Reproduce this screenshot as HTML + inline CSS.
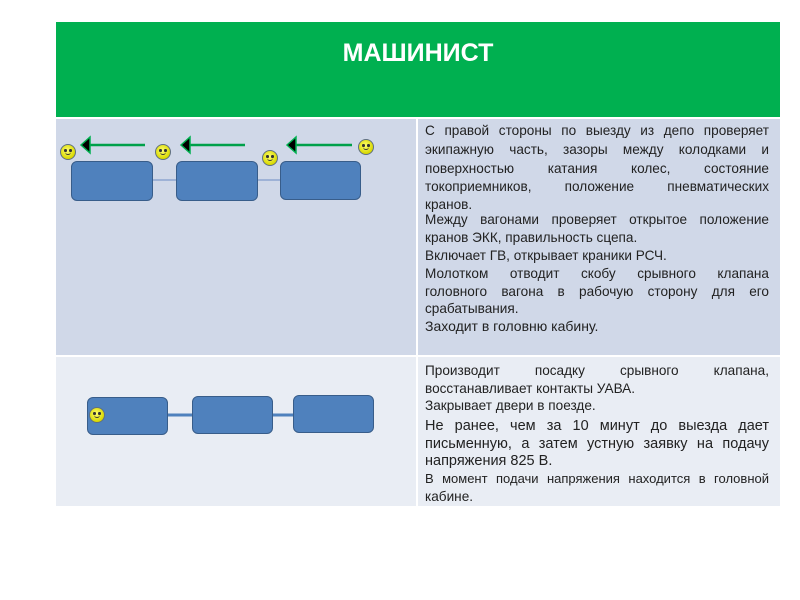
<!DOCTYPE html><html><head><meta charset="utf-8"><style>
body{margin:0;width:800px;height:600px;background:#fff;position:relative;overflow:hidden;font-family:"Liberation Sans",sans-serif}
.a{position:absolute}
.t{position:absolute;left:425px;width:344px;font-size:13.6px;color:#222;white-space:nowrap}
.j{text-align:justify;text-align-last:justify}
.b{position:absolute;background:#4f81bd;border:1.5px solid #385d8a;border-radius:6px;box-sizing:border-box}
.s{position:absolute;width:16px;height:16px;border-radius:50%;background:radial-gradient(circle at 45% 40%,#ffff70,#d8d800 70%);border:1.5px solid #607080;box-sizing:border-box}
.s::before{content:"";position:absolute;left:3px;top:4px;width:2.5px;height:2.5px;background:#333;border-radius:50%;box-shadow:5px 0 0 #333}
.s::after{content:"";position:absolute;left:3.5px;top:6px;width:6px;height:3px;border-bottom:1px solid #333;border-radius:0 0 4px 4px}
</style></head><body>
<div class="a" style="left:56px;top:22px;width:724px;height:95px;background:#00b050"></div>
<div class="a" style="left:56px;top:39px;width:724px;text-align:center;color:#fff;font-weight:bold;font-size:25px;">МАШИНИСТ</div>
<div class="a" style="left:56px;top:119px;width:360px;height:236px;background:#d0d8e8"></div>
<div class="a" style="left:418px;top:119px;width:362px;height:236px;background:#d0d8e8"></div>
<div class="a" style="left:56px;top:357px;width:360px;height:149px;background:#e9edf4"></div>
<div class="a" style="left:418px;top:357px;width:362px;height:149px;background:#e9edf4"></div>

<svg class="a" style="left:0;top:0" width="800" height="600">
<g stroke="#00a04a" stroke-width="2.5"><line x1="88" y1="145" x2="145" y2="145"/><line x1="188" y1="145" x2="245" y2="145"/><line x1="294" y1="145" x2="352" y2="145"/></g>
<g fill="#000" stroke="#00b050" stroke-width="1.5"><polygon points="81,145 90,137 90,153"/><polygon points="181,145 190,137 190,153"/><polygon points="287,145 296,137 296,153"/></g>
<g stroke="#7f9ccc" stroke-width="1.2"><line x1="152" y1="180" x2="176" y2="180"/><line x1="257" y1="180" x2="280" y2="180"/></g>
<g stroke="#4f81bd" stroke-width="3"><line x1="167" y1="415" x2="192" y2="415"/><line x1="272" y1="415" x2="293" y2="415"/></g>
</svg>
<div class="b" style="left:71px;top:161px;width:82px;height:40px"></div>
<div class="b" style="left:176px;top:161px;width:82px;height:40px"></div>
<div class="b" style="left:280px;top:161px;width:81px;height:39px"></div>
<div class="b" style="left:87px;top:397px;width:81px;height:38px"></div>
<div class="b" style="left:192px;top:396px;width:81px;height:38px"></div>
<div class="b" style="left:293px;top:395px;width:81px;height:38px"></div>
<div class="s" style="left:60px;top:144px"></div>
<div class="s" style="left:155px;top:144px"></div>
<div class="s" style="left:262px;top:150px"></div>
<div class="s" style="left:358px;top:139px"></div>
<div class="s" style="left:89px;top:407px"></div>

<div class="t j" style="top:123px">С правой стороны по выезду из депо проверяет</div>
<div class="t j" style="top:142px">экипажную часть, зазоры между колодками и</div>
<div class="t j" style="top:161px">поверхностью катания колес, состояние</div>
<div class="t j" style="top:179px">токоприемников, положение пневматических</div>
<div class="t" style="top:197px">кранов.</div>
<div class="t j" style="top:212px">Между вагонами проверяет открытое положение</div>
<div class="t" style="top:230px">кранов ЭКК, правильность сцепа.</div>
<div class="t" style="top:248px">Включает ГВ, открывает краники РСЧ.</div>
<div class="t j" style="top:266px">Молотком отводит скобу срывного клапана</div>
<div class="t j" style="top:284px">головного вагона в рабочую сторону для его</div>
<div class="t" style="top:301px">срабатывания.</div>
<div class="t" style="top:318px;font-size:14px">Заходит в головню кабину.</div>

<div class="t j" style="top:363px">Производит посадку срывного клапана,</div>
<div class="t" style="top:381px">восстанавливает контакты УАВА.</div>
<div class="t" style="top:398px">Закрывает двери в поезде.</div>
<div class="t j" style="top:418px;font-size:14.5px">Не ранее, чем за 10 минут до выезда дает</div>
<div class="t j" style="top:436px;font-size:14.5px">письменную, а затем устную заявку на подачу</div>
<div class="t" style="top:453px;font-size:14.5px">напряжения 825 В.</div>
<div class="t j" style="top:471px;font-size:13px">В момент подачи напряжения находится в головной</div>
<div class="t" style="top:489px">кабине.</div>
</body></html>
